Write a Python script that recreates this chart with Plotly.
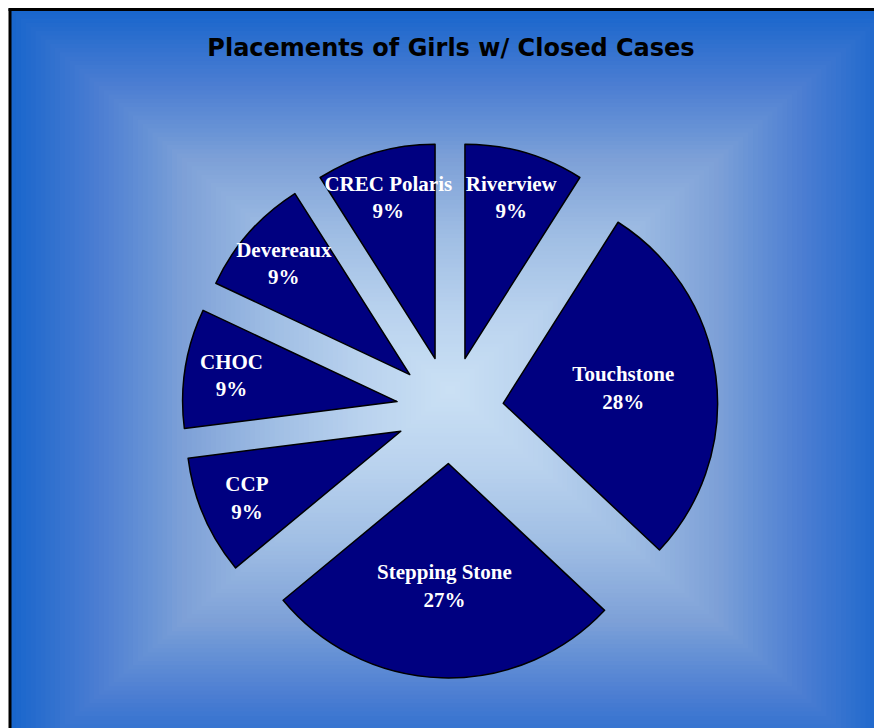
import plotly.graph_objects as go

labels = ["Riverview", "Touchstone", "Stepping Stone", "CCP", "CHOC", "Devereaux", "CREC Polaris"]
values = [9, 28, 27, 9, 9, 9, 9]

W, H = 882, 728
L, R, T, B = 174, 172, 134, 58
PW, PH = W - L - R, H - T - B

def px(x):
    return (x - L) / PW

def py(y):
    return 1 - (y - T) / PH

# background: rectangular "from center" gradient built of nested rectangles
cx, cy = 442, 382
x0, x1, y0, y1 = 3, 882, 2, 763
stops = [(0.0, (25, 102, 204)), (0.19, (75, 125, 210)), (0.32, (105, 148, 214)),
         (0.39, (125, 160, 215)), (0.6, (160, 190, 228)), (0.8, (185, 210, 238)),
         (1.0, (202, 224, 244))]

def color_at(f):
    for (fa, ca), (fb, cb) in zip(stops[:-1], stops[1:]):
        if f <= fb:
            u = (f - fa) / (fb - fa)
            return tuple(int(round(ca[k] + (cb[k] - ca[k]) * u)) for k in range(3))
    return stops[-1][1]

shapes = []
N = 90
for i in range(N):
    s = 1 - i / N
    col = color_at(i / (N - 1))
    shapes.append(dict(
        type="rect", xref="paper", yref="paper", layer="below",
        x0=px(cx - (cx - x0) * s), x1=px(cx + (x1 - cx) * s),
        y0=py(cy + (y1 - cy) * s), y1=py(cy - (cy - y0) * s),
        fillcolor="rgb(%d,%d,%d)" % col, line=dict(width=0),
    ))
# frame lines (left and top)
shapes.append(dict(type="line", xref="paper", yref="paper", layer="below",
                   x0=px(2), x1=px(2), y0=py(0.5), y1=py(740),
                   line=dict(color="black", width=3)))
shapes.append(dict(type="line", xref="paper", yref="paper", layer="below",
                   x0=px(0.5), x1=px(900), y0=py(1.5), y1=py(1.5),
                   line=dict(color="black", width=3)))

fig = go.Figure(go.Pie(
    labels=labels, values=values, sort=False, direction="clockwise", rotation=0,
    pull=[0.25] * len(values),
    marker=dict(colors=["#000080"] * len(values), line=dict(color="black", width=1.5)),
    texttemplate="<b>%{label}</b><br><b>%{percent:.0%}</b>",
    textposition="inside", insidetextorientation="horizontal",
    textfont=dict(family="Liberation Serif", size=21, color="white"),
    hoverinfo="label+percent", showlegend=False,
    domain=dict(x=[0, 1], y=[0, 1]),
))

fig.update_layout(
    width=W, height=H,
    margin=dict(l=L, r=R, t=T, b=B),
    paper_bgcolor="white", plot_bgcolor="white",
    shapes=shapes,
    uniformtext=dict(minsize=21, mode="show"),
    title=dict(text="<b>Placements of Girls w/ Closed Cases</b>",
               x=443 / W, xanchor="center", y=1 - 40 / H, yanchor="middle",
               font=dict(family="DejaVu Sans", size=24, color="black")),
)

fig.write_html("out.html")
